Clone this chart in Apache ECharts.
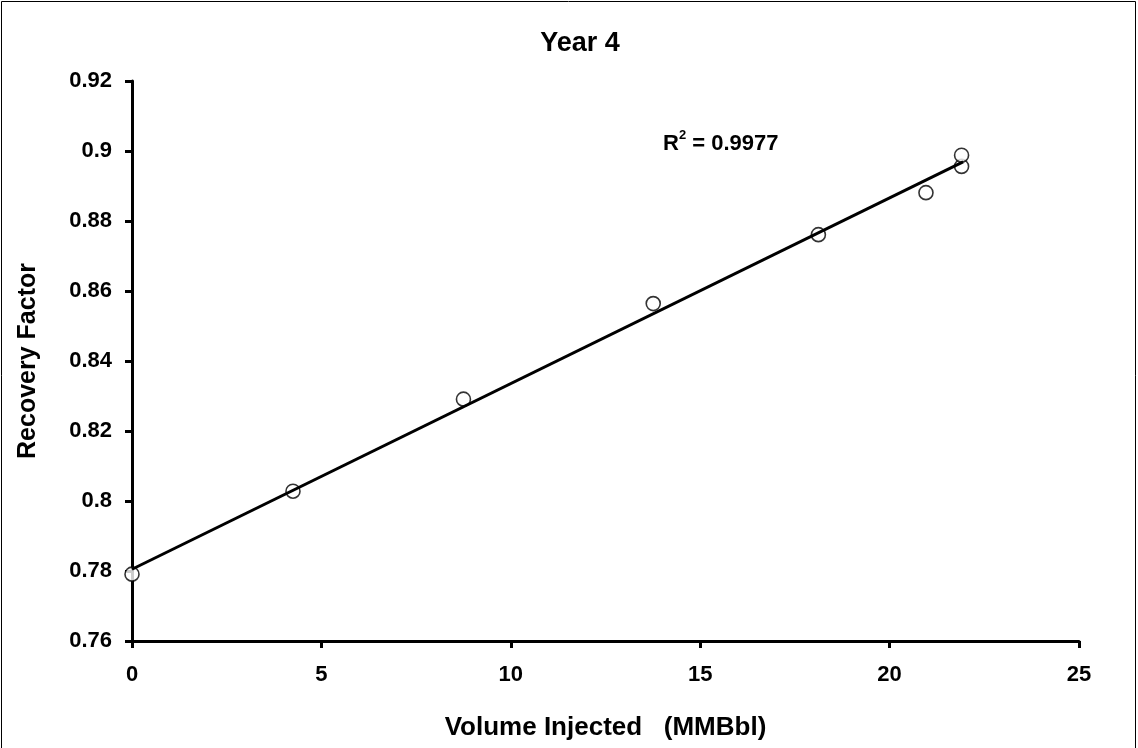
<!DOCTYPE html>
<html>
<head>
<meta charset="utf-8">
<script src="https://cdn.jsdelivr.net/npm/echarts@6/dist/echarts.min.js"></script>
<style>
html,body{margin:0;padding:0;background:#fff;}
#chart{width:1138px;height:748px;}
</style>
</head>
<body>
<div id="chart"></div>
<script>
// ---- Data ----
const titleText = 'Year 4';
const xAxisName = 'Volume Injected   (MMBbl)';
const yAxisName = 'Recovery Factor';
const volumeInjected = [0, 4.25, 8.75, 13.76, 18.12, 20.96, 21.9, 21.9];
const recoveryFactor = [0.7791, 0.8028, 0.8291, 0.8564, 0.8761, 0.8881, 0.8956, 0.8988];
const trendX = [0, 21.94];
const trendY = [0.7805, 0.8969];
const rSquared = '0.9977';

const FONT = '"Liberation Sans", Arial, sans-serif';
const chart = echarts.init(document.getElementById('chart'), null, {renderer: 'canvas'});

const scatterData = volumeInjected.map((x, i) => [x, recoveryFactor[i]]);
const trendData = trendX.map((x, i) => [x, trendY[i]]);

chart.setOption({
  backgroundColor: '#ffffff',
  animation: false,
  title: {
    text: titleText,
    left: 575,
    textAlign: 'center',
    top: 25,
    textStyle: {fontFamily: FONT, fontWeight: 'bold', fontSize: 27, color: '#000'}
  },
  grid: {left: 132, right: 59, top: 81, bottom: 107},
  xAxis: {
    type: 'value',
    min: 0, max: 25, interval: 5,
    name: xAxisName,
    nameLocation: 'middle',
    nameGap: 74,
    nameTextStyle: {fontFamily: FONT, fontWeight: 'bold', fontSize: 26, color: '#000'},
    axisLine: {show: true, onZero: false, lineStyle: {color: '#000', width: 3}},
    axisTick: {show: true, inside: false, length: 7, lineStyle: {color: '#000', width: 3}},
    axisLabel: {margin: 23, fontFamily: FONT, fontWeight: 'bold', fontSize: 22, color: '#000'},
    splitLine: {show: false}
  },
  yAxis: {
    type: 'value',
    min: 0.76, max: 0.92, interval: 0.02,
    name: yAxisName,
    nameLocation: 'middle',
    nameGap: 91,
    nameTextStyle: {fontFamily: FONT, fontWeight: 'bold', fontSize: 25, color: '#000'},
    axisLine: {show: true, onZero: false, lineStyle: {color: '#000', width: 3}},
    axisTick: {show: true, inside: false, length: 7, lineStyle: {color: '#000', width: 3}},
    axisLabel: {margin: 20, fontFamily: FONT, fontWeight: 'bold', fontSize: 22, color: '#000',
      formatter: v => String(parseFloat(v.toFixed(2)))},
    splitLine: {show: false}
  },
  series: [
    {
      type: 'scatter',
      data: scatterData,
      symbol: 'circle',
      symbolSize: 14,
      clip: false,
      itemStyle: {color: '#fff', borderColor: '#000', borderWidth: 1.6},
      z: 2
    },
    {
      type: 'line',
      data: trendData,
      showSymbol: false,
      symbol: 'none',
      lineStyle: {color: '#000', width: 3},
      z: 3
    }
  ],
  graphic: [
    {
      type: 'rect',
      shape: {x: 1.5, y: 1.5, width: 1134, height: 780},
      style: {fill: 'none', stroke: '#000', lineWidth: 1},
      silent: true,
      z: -10
    },
    {
      type: 'text',
      left: 663,
      top: 129,
      style: {
        text: '{r|R}{s|2}{r| = ' + rSquared + '}',
        rich: {
          r: {fontFamily: FONT, fontWeight: 'bold', fontSize: 22, fill: '#000', verticalAlign: 'bottom', lineHeight: 26},
          s: {fontFamily: FONT, fontWeight: 'bold', fontSize: 13, fill: '#000', verticalAlign: 'top', lineHeight: 26, padding: [0, 0, 11, 0]}
        }
      }
    }
  ]
});
</script>
</body>
</html>
